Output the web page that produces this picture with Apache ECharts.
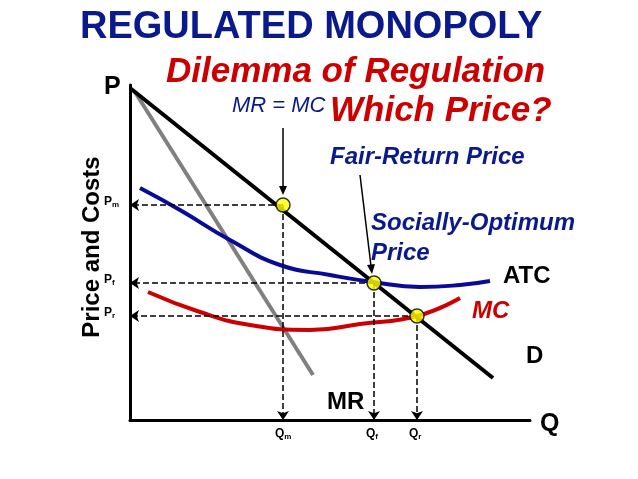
<!DOCTYPE html><html><head><meta charset="utf-8">
<script src="https://cdn.jsdelivr.net/npm/echarts@6/dist/echarts.min.js"></script>
<style>html,body{margin:0;background:#fff}#c{width:638px;height:479px}</style></head><body><div id="c"></div>
<script>
const demand=[[0,332],[363,42]];
const mr=[[5,328],[183,45]];
const atc=[[10,232],[50,210],[100,180],[150,155],[200,145],[243,138],[290,133],[330,135],[360,139]];
const mc=[[18,128],[70,108],[120,95],[180,90],[230,96],[287,104],[330,122]];
const pts=[[153,215],[244,137],[287,104]];
const pLabels=['Pm','Pf','Pr'];
const qLabels=['Qm','Qf','Qr'];
const navy='#0a1a8c', red='#cc0000';
const dash={type:'dashed',color:'#000',width:1.5};
const lines=[];
pts.forEach(p=>{
  lines.push([{coord:[p[0],p[1]],symbol:'none'},{coord:[0,p[1]],symbol:'arrow'}]);
  lines.push([{coord:[p[0],p[1]],symbol:'none'},{coord:[p[0],0],symbol:'arrow'}]);
});
const rich={b:{fontSize:12,fontWeight:'bold',fontFamily:'Liberation Sans'},s:{fontSize:8,fontWeight:'bold',fontFamily:'Liberation Sans',padding:[6,0,0,0]}};
function sub(t){return '{b|'+t[0]+'}{s|'+t[1]+'}';}
const chart=echarts.init(document.getElementById('c'));
const txt=(x,y,t,o)=>({type:'text',left:x,top:y,style:Object.assign({text:t,fontFamily:'Liberation Sans',fontWeight:'bold'},o)});
chart.setOption({
  animation:false,
  grid:{left:130,top:85,width:400,height:335},
  xAxis:{type:'value',min:0,max:400,axisLine:{lineStyle:{color:'#000',width:3}},axisTick:{show:false},axisLabel:{show:false},splitLine:{show:false}},
  yAxis:{type:'value',min:0,max:335,axisLine:{lineStyle:{color:'#000',width:3}},axisTick:{show:false},axisLabel:{show:false},splitLine:{show:false}},
  series:[
    {type:'line',data:mr,symbol:'none',lineStyle:{color:'#808080',width:4}},
    {type:'line',data:demand,symbol:'none',lineStyle:{color:'#000',width:4}},
    {type:'line',data:atc,smooth:true,symbol:'none',lineStyle:{color:'#0a0a99',width:4}},
    {type:'line',data:mc,smooth:true,symbol:'none',lineStyle:{color:red,width:4}},
    {type:'line',data:[],markLine:{silent:true,symbolSize:9,lineStyle:dash,label:{show:false},data:lines}},
    {type:'scatter',data:pts,symbolSize:14,itemStyle:{color:'#ffff00',borderColor:'#000',borderWidth:1.5},z:10}
  ],
  graphic:[
    txt(80,9,'REGULATED MONOPOLY',{fontSize:38,fill:navy}),
    txt(166,55,'Dilemma of Regulation',{fontSize:35,fill:red,fontStyle:'italic'}),
    txt(330,94,'Which Price?',{fontSize:35,fill:red,fontStyle:'italic'}),
    txt(232,95,'MR = MC',{fontSize:22,fill:navy,fontStyle:'italic',fontWeight:'normal'}),
    txt(330,145,'Fair-Return Price',{fontSize:24,fill:navy,fontStyle:'italic'}),
    txt(371,211,'Socially-Optimum',{fontSize:24,fill:navy,fontStyle:'italic'}),
    txt(371,241,'Price',{fontSize:24,fill:navy,fontStyle:'italic'}),
    txt(503,264,'ATC',{fontSize:24,fill:'#000'}),
    txt(472,299,'MC',{fontSize:24,fill:red,fontStyle:'italic'}),
    txt(526,344,'D',{fontSize:24,fill:'#000'}),
    txt(327,390,'MR',{fontSize:24,fill:'#000'}),
    txt(540,412,'Q',{fontSize:25,fill:'#000'}),
    txt(104,75,'P',{fontSize:25,fill:'#000'}),
    {type:'text',x:92,y:247,rotation:Math.PI/2,style:{text:'Price and Costs',fontSize:24,fontWeight:'bold',fontFamily:'Liberation Sans',fill:'#000',align:'center',verticalAlign:'middle'}},
    {type:'line',shape:{x1:283,y1:128,x2:283,y2:188},style:{stroke:'#000',lineWidth:1.5}},
    {type:'polygon',shape:{points:[[279,186],[287,186],[283,195]]},style:{fill:'#000'}},
    {type:'line',shape:{x1:360,y1:175,x2:371,y2:266},style:{stroke:'#000',lineWidth:1.5}},
    {type:'polygon',shape:{points:[[367,265],[375,264],[372,274]]},style:{fill:'#000'}},
    ...pts.map((p,i)=>({type:'text',left:104,top:420-p[1]-9,style:{text:sub(pLabels[i]),rich:rich,fill:'#000'}})),
    ...pts.map((p,i)=>({type:'text',left:130+p[0]-8,top:428,style:{text:sub(qLabels[i]),rich:rich,fill:'#000'}}))
  ]
});
</script></body></html>
